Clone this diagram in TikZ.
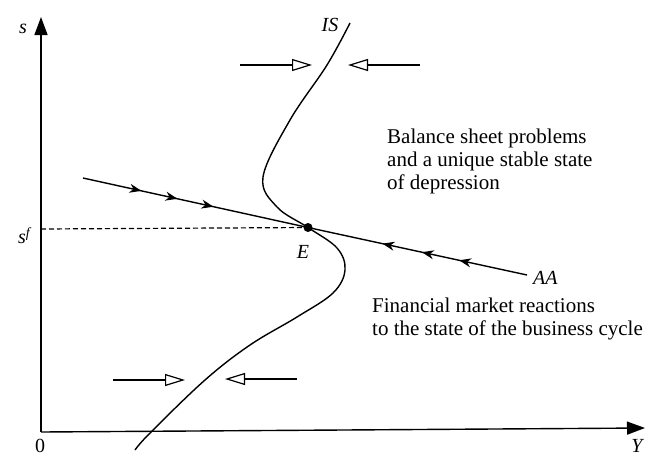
\documentclass[tikz,border=0pt]{standalone}
\usepackage{fontspec}
\setmainfont{Liberation Serif}
\usetikzlibrary{arrows.meta,decorations.markings}
\begin{document}
\begin{tikzpicture}[x=1pt,y=-1pt,
  curve/.style={line width=1.4pt},
  axis/.style={line width=1.4pt,-{Triangle[length=18pt,width=13pt]}},
  openarrow/.style={line width=1.2pt,-{Triangle[open,length=20pt,width=12pt,line width=1.2pt]}},
  lbl/.style={inner sep=0pt,font=\fontsize{20}{23}\selectfont\itshape},
  txt/.style={inner sep=0pt,anchor=base west,font=\fontsize{21}{23}\selectfont},
  flowmark/.style={postaction={decorate,decoration={markings,#1}}},
  fm/.tip={Stealth[length=12pt,width=9pt]}
]
\useasboundingbox (0,0) rectangle (648,456);
% axes
\coordinate (O) at (41,432);
\coordinate (ytop) at (41,17);
\coordinate (xend) at (645,428);
\draw[axis] (O) -- (ytop);
\draw[axis] (O) -- (xend);
\node[inner sep=0pt,font=\fontsize{20}{23}\selectfont] (zero) at (40,446) {0};
\node[lbl] (Ylab) at (637,446) {Y};
\node[lbl] (slab) at (23,29) {s};
% AA line
\coordinate (AAa) at (83,178);
\coordinate (E) at (308,227.5);
\coordinate (AAb) at (527,275);
\draw[curve,flowmark={mark=at position 0.26 with {\arrow{fm}},
  mark=at position 0.42 with {\arrow{fm}},
  mark=at position 0.58 with {\arrow{fm}}}] (AAa) -- (E);
\draw[curve,flowmark={mark=at position 0.34 with {\arrowreversed{fm}},
  mark=at position 0.52 with {\arrowreversed{fm}},
  mark=at position 0.69 with {\arrowreversed{fm}}}] (E) -- (AAb);
\node[lbl,anchor=west] (AAlab) at (533,278) {AA};
% dashed
\coordinate (sf) at (41,229);
\draw[line width=1.2pt,dash pattern=on 5pt off 3pt] (sf) -- (E);
\node[inner sep=0pt,anchor=base east,font=\fontsize{20}{23}\selectfont\itshape] (sflab) at (30,243) {s\raisebox{6pt}{\fontsize{14}{16}\selectfont f}};
% IS curve
\draw[curve] plot[smooth,tension=0.6] coordinates {(350,23) (327,65) (290,120) (263,177) (277,207) (308,227.5) (337,248) (345,270) (333,293) (297,317) (250,345) (205,380) (150,433) (135,450)};
\node[lbl] (ISlab) at (330,25) {IS};
\fill (E) circle (4.5pt);
\node[lbl] (Elab) at (303,252) {E};
% horizontal arrows
\coordinate (t1a) at (240,65); \coordinate (t1b) at (312,65);
\coordinate (t2a) at (420,65); \coordinate (t2b) at (348,65);
\coordinate (b1a) at (113,380); \coordinate (b1b) at (185,380);
\coordinate (b2a) at (297,379); \coordinate (b2b) at (225,379);
\draw[openarrow] (t1a) -- (t1b);
\draw[openarrow] (t2a) -- (t2b);
\draw[openarrow] (b1a) -- (b1b);
\draw[openarrow] (b2a) -- (b2b);
% texts
\node[txt] (bal1) at (387,143) {Balance sheet problems};
\node[txt] (bal2) at (387,166) {and a unique stable state};
\node[txt] (bal3) at (387,189) {of depression};
\node[txt] (fin1) at (372,312) {Financial market reactions};
\node[txt] (fin2) at (372,335) {to the state of the business cycle};
\end{tikzpicture}
\end{document}
